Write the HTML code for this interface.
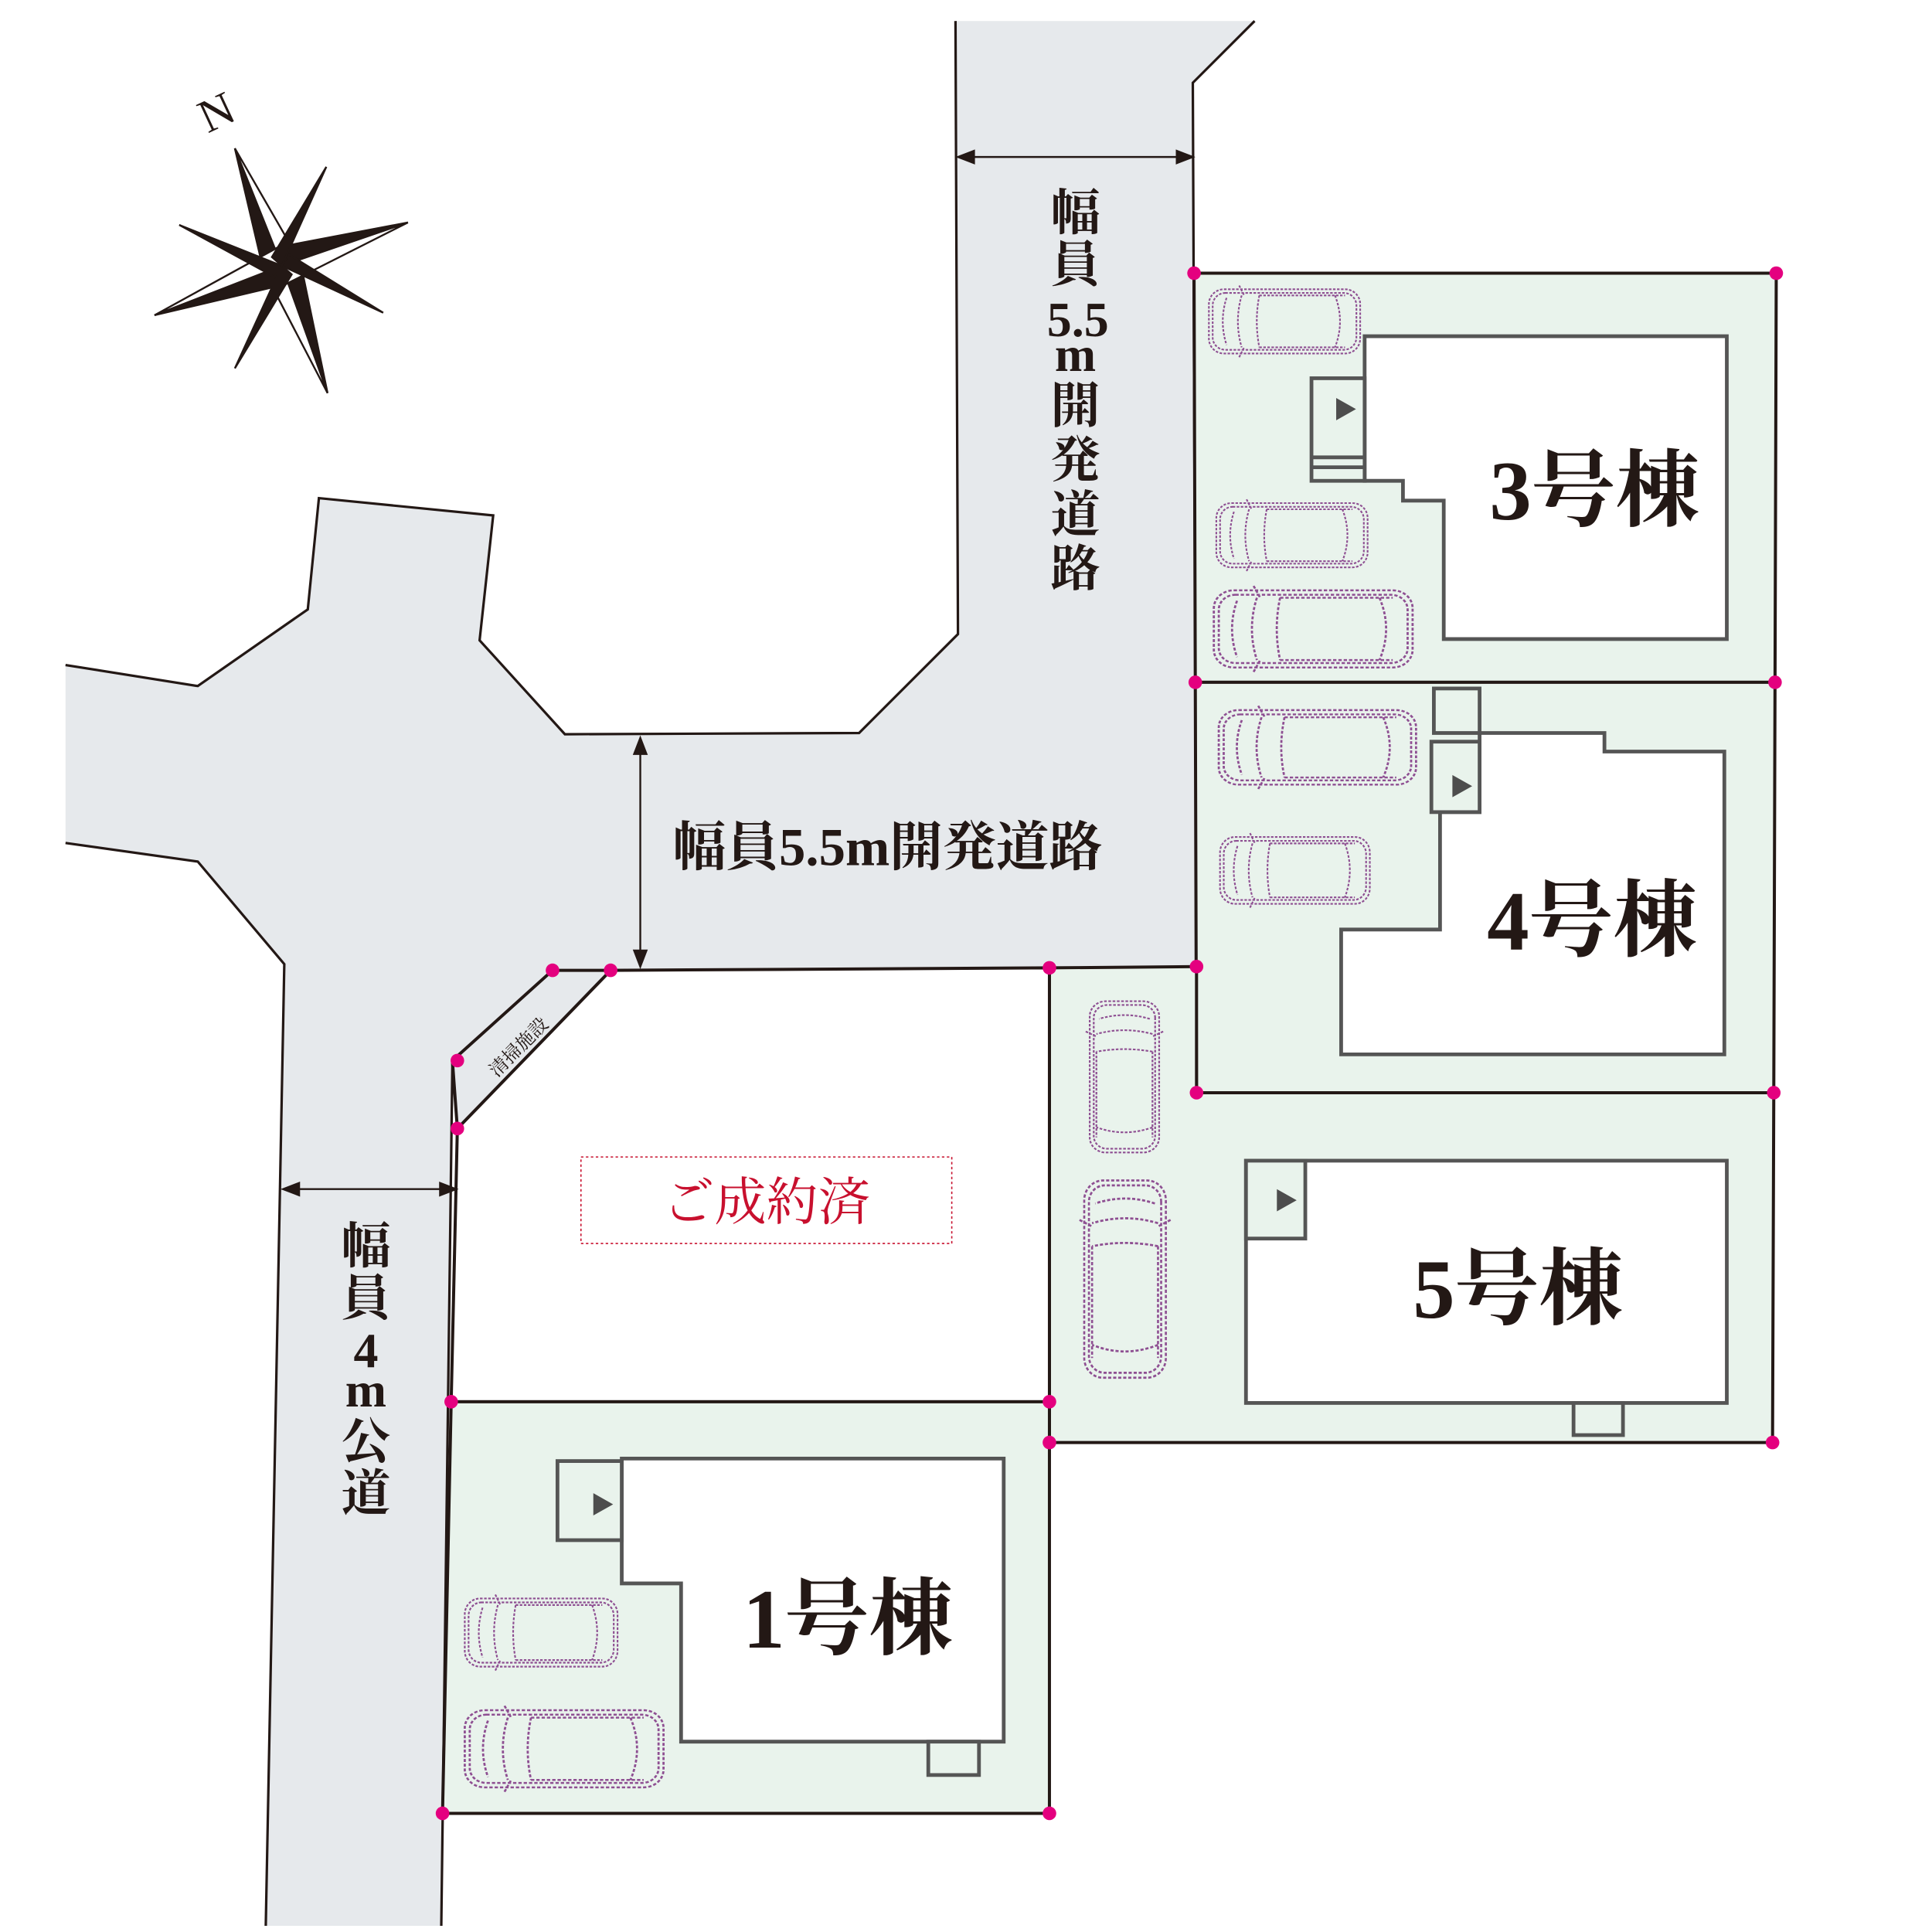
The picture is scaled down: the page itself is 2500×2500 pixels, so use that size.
<!DOCTYPE html>
<html><head><meta charset="utf-8"><style>html,body{margin:0;padding:0;background:#fff}svg{display:block}</style></head>
<body>
<svg width="2500" height="2500" viewBox="0 0 1563 1563" xmlns="http://www.w3.org/2000/svg">
<defs>
<g id="car" fill="none" stroke="#8e4f92" stroke-width="1.3" stroke-dasharray="2 1.2">
<rect x="0" y="3" width="120" height="52" rx="12"/>
<rect x="3" y="6" width="114" height="46" rx="10"/>
<path d="M14 10 Q8 29 14 48 M26 8 Q20 29 26 50 M40 8 Q36 29 40 50 M40 8 H108 M40 50 H108 M100 8 Q108 29 100 50"/>
<path d="M24 0 L28 8 M24 58 L28 50"/>
</g>
</defs>
<rect width="1563" height="1563" fill="#fff"/>
<polygon points="773,17 1015,17 965,67 968,782 447,785 366,858 357,1558 215,1558 230,780 160,697 53,682 53,538 160,555 249,493 258,403 399,417 388,518 457,594 695,593 775,513" fill="#e6e9ec"/>
<g fill="none" stroke="#231815" stroke-width="2">
<polyline points="773,17 775,513 695,593 457,594 388,518 399,417 258,403 249,493 160,555 53,538"/>
<polyline points="53,682 160,697 230,780 215,1558"/>
<polyline points="1015,17 965,67 968,782"/>
<polyline points="447,785 366,858 357,1558"/>
</g>
<g stroke="#231815" stroke-width="2.5">
<polygon points="966,221 1437,221 1436,552 967,552" fill="#e9f3ec"/>
<polygon points="967,552 1436,552 1435,884 968,884" fill="#e9f3ec"/>
<polygon points="849,783 968,782 968,884 1435,884 1434,1167 849,1167" fill="#e9f3ec"/>
<polygon points="494,785 849,783 849,1134 365,1134 370,913" fill="#fff"/>
<polygon points="447,785 494,785 370,913 366,858" fill="#e6e9ec"/>
<polygon points="365,1134 849,1134 849,1467 358,1467" fill="#e9f3ec"/>
</g>
<g fill="#fff" stroke="#555" stroke-width="3">
<polygon points="1104,272 1397,272 1397,517 1168,517 1168,405 1135,405 1135,389 1104,389"/>
<rect x="1061" y="306" width="43" height="83" fill="#e9f3ec"/>
<line x1="1061" y1="370" x2="1104" y2="370"/>
<line x1="1061" y1="378" x2="1104" y2="378"/>
<polygon points="1197,593 1298,593 1298,608 1395,608 1395,853 1085,853 1085,752 1165,752 1165,657 1197,657"/>
<rect x="1160" y="557" width="37" height="36" fill="#e9f3ec"/>
<rect x="1158" y="600" width="39" height="57" fill="#e9f3ec"/>
<rect x="1008" y="939" width="389" height="196"/>
<rect x="1008" y="939" width="48" height="63" fill="#e9f3ec"/>
<rect x="1273" y="1135" width="40" height="26" fill="#e9f3ec"/>
<polygon points="503,1180 812,1180 812,1409 551,1409 551,1281 503,1281"/>
<rect x="451" y="1182" width="52" height="64" fill="#e9f3ec"/>
<rect x="751" y="1409" width="41" height="27" fill="#e9f3ec"/>
</g>
<g fill="#4d4d4d">
<polygon points="1081,322 1081,340 1097,331"/>
<polygon points="1175,627 1175,645 1191,636"/>
<polygon points="1033,962 1033,980 1049,971"/>
<polygon points="480,1208 480,1226 496,1217"/>
</g>
<use href="#car" transform="translate(978,231) scale(1.02,1)"/>
<use href="#car" transform="translate(984,404) scale(1.02,1)"/>
<use href="#car" transform="translate(982,474) scale(1.34,1.2)"/>
<use href="#car" transform="translate(986,571) scale(1.33,1.16)"/>
<use href="#car" transform="translate(987,674) scale(1.01,1.04)"/>
<use href="#car" transform="translate(941,810) rotate(90) scale(1.02,1.08)"/>
<use href="#car" transform="translate(947,955) rotate(90) scale(1.33,1.27)"/>
<use href="#car" transform="translate(376,1290) scale(1.03,1.06)"/>
<use href="#car" transform="translate(376,1380) scale(1.34,1.2)"/>
<g fill="#e4007f">
<circle cx="966" cy="221" r="5.5"/><circle cx="1437" cy="221" r="5.5"/>
<circle cx="967" cy="552" r="5.5"/><circle cx="1436" cy="552" r="5.5"/>
<circle cx="968" cy="782" r="5.5"/><circle cx="968" cy="884" r="5.5"/><circle cx="1435" cy="884" r="5.5"/>
<circle cx="849" cy="783" r="5.5"/><circle cx="849" cy="1134" r="5.5"/><circle cx="849" cy="1167" r="5.5"/><circle cx="1434" cy="1167" r="5.5"/>
<circle cx="447" cy="785" r="5.5"/><circle cx="494" cy="785" r="5.5"/><circle cx="370" cy="858" r="5.5"/><circle cx="370" cy="913" r="5.5"/>
<circle cx="365" cy="1134" r="5.5"/><circle cx="358" cy="1467" r="5.5"/><circle cx="849" cy="1467" r="5.5"/>
</g>
<g stroke="#231815" stroke-width="1.5" fill="#231815">
<line x1="778" y1="127" x2="962" y2="127"/>
<polygon points="775,127 788,122 788,132"/><polygon points="965,127 952,122 952,132"/>
<line x1="518" y1="600" x2="518" y2="779"/>
<polygon points="518,597 513,610 523,610"/><polygon points="518,782 513,769 523,769"/>
<line x1="232" y1="962" x2="366" y2="962"/>
<polygon points="229,962 242,957 242,967"/><polygon points="369,962 356,957 356,967"/>
</g>
<g font-family="'Liberation Serif','Noto Serif CJK JP',serif" fill="#231815" font-weight="bold">
<text x="718" y="700" font-size="43" text-anchor="middle">幅員5.5m開発道路</text>
<g font-size="40" text-anchor="middle">
<text x="870" y="186">幅</text><text x="870" y="228">員</text><text x="872" y="272">5.5</text>
<text x="870" y="300">m</text><text x="870" y="342">開</text><text x="870" y="386">発</text>
<text x="870" y="430">道</text><text x="870" y="474">路</text>
<text x="296" y="1022">幅</text><text x="296" y="1064">員</text><text x="296" y="1106">4</text>
<text x="296" y="1138">m</text><text x="296" y="1180">公</text><text x="296" y="1222">道</text>
</g>
<g font-size="68" text-anchor="middle">
<text x="1290" y="420">3号棟</text>
<text x="1288" y="768">4号棟</text>
<text x="1228" y="1066">5号棟</text>
<text x="686" y="1333">1号棟</text>
</g>
<text x="0" y="0" font-size="15" font-weight="normal" transform="translate(402,872) rotate(-45)">清掃施設</text>
</g>
<rect x="470" y="936" width="300" height="70" fill="none" stroke="#c8102e" stroke-width="1" stroke-dasharray="2 2"/>
<text x="620" y="987" font-size="42" text-anchor="middle" fill="#c8102e" font-family="'Liberation Serif','Noto Serif CJK JP',serif">ご成約済</text>
<g stroke="#231815" stroke-width="1.5" fill="#231815">
<polygon points="190,120 228,215 213,218"/><polygon points="190,120 228,215 243,212" fill="#fff"/>
<polygon points="265,318 228,215 243,212"/><polygon points="265,318 228,215 213,218" fill="#fff"/>
<polygon points="125,255 228,215 231,230"/><polygon points="125,255 228,215 225,200" fill="#fff"/>
<polygon points="330,180 228,215 225,200"/><polygon points="330,180 228,215 231,230" fill="#fff"/>
<polygon points="145,182 228,215 222,224" /><polygon points="310,253 228,215 234,206"/>
<polygon points="190,298 228,215 236,222"/><polygon points="264,135 228,215 220,208"/>
</g>
<text x="0" y="0" font-size="38" font-family="'Liberation Serif',serif" fill="#231815" transform="translate(168,108) rotate(-25)">N</text>
</svg>
</body></html>
